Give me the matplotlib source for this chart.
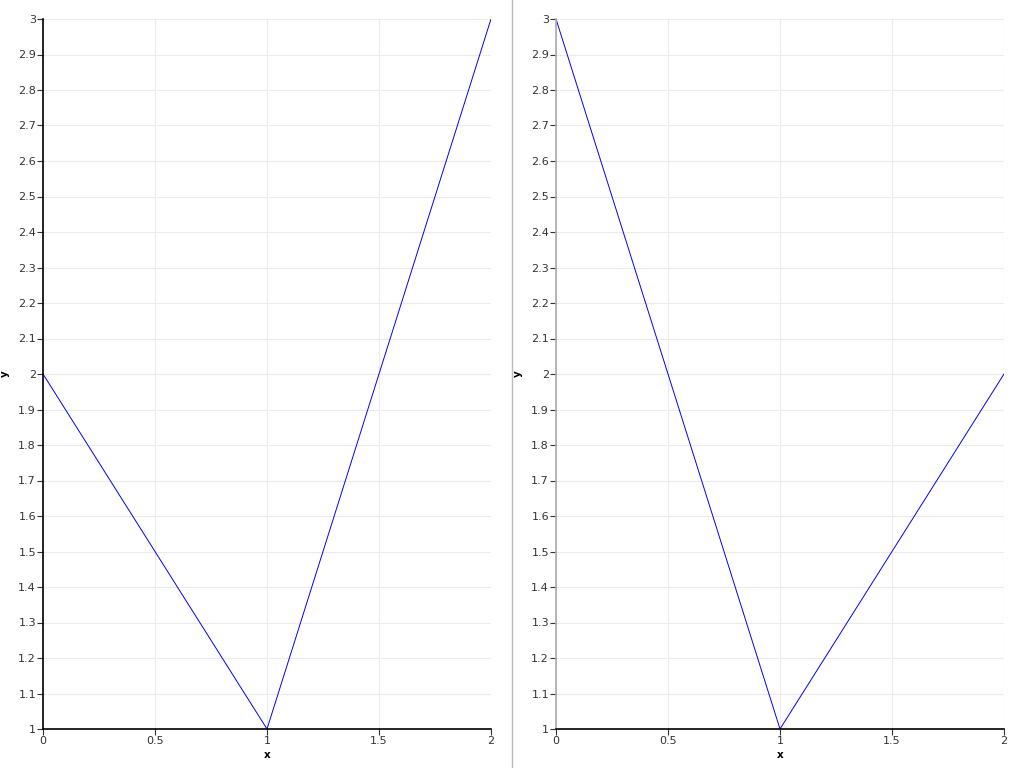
import matplotlib.pyplot as plt
from matplotlib.lines import Line2D
import numpy as np

x = [0, 1, 2]
y_left = [2, 1, 3]
y_right = [3, 1, 2]

fig = plt.figure(figsize=(10.24, 7.68), dpi=100)

def draw_panel(rect, xs, ys, spine_color):
    ax = fig.add_axes(rect)
    ax.plot(xs, ys, color="blue", linewidth=0.7)
    ax.set_xlim(0, 2)
    ax.set_ylim(1, 3)
    ax.set_xticks(np.arange(0, 2.01, 0.5))
    ax.set_xticklabels(["0", "0.5", "1", "1.5", "2"])
    yt = np.round(np.arange(1, 3.001, 0.1), 1)
    ax.set_yticks(yt)
    ax.set_yticklabels(["%g" % v for v in yt])
    ax.grid(True, color="#ebebeb", linewidth=0.8)
    ax.set_axisbelow(True)
    for s in ["top", "right"]:
        ax.spines[s].set_visible(False)
    ax.spines["bottom"].set_color("black")
    ax.spines["left"].set_color(spine_color)
    ax.spines["bottom"].set_linewidth(1.2)
    ax.spines["left"].set_linewidth(1.2)
    ax.tick_params(axis="both", labelsize=8, labelcolor="#333333", length=4,
                   width=0.8, pad=1, color="#333333")
    ax.set_xlabel("x", fontsize=7.5, fontweight="bold")
    ax.set_ylabel("y", fontsize=7.5, fontweight="bold")
    ax.xaxis.set_label_coords(0.5, -21 / 710, transform=ax.transAxes)
    ax.yaxis.set_label_coords(-33 / 448, 0.5, transform=ax.transAxes)
    return ax

draw_panel([43 / 1024, 39 / 768, 448 / 1024, 710 / 768], x, y_left, "black")
draw_panel([556 / 1024, 39 / 768, 448 / 1024, 710 / 768], x, y_right, "#aaaaaa")

fig.add_artist(Line2D([512 / 1024, 512 / 1024], [0, 1], color="#bbbbbb", linewidth=1))

fig.savefig("out.png", dpi=100)
